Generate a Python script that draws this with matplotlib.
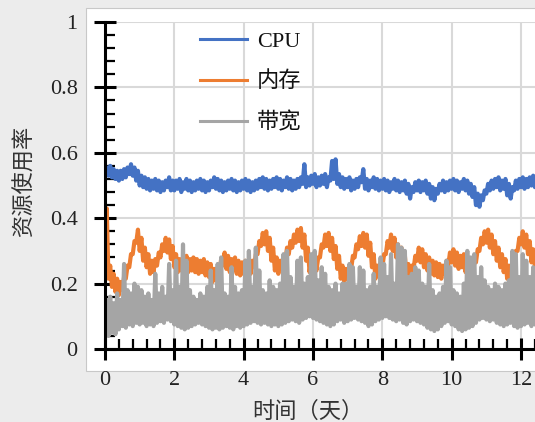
import numpy as np
import matplotlib
matplotlib.use("Agg")
from matplotlib import pyplot as plt
from matplotlib.patches import Rectangle
from matplotlib.ticker import MultipleLocator, FixedLocator, FixedFormatter

## data, one sample every 0.1 day (low / high of the noisy band)
days = np.round(np.arange(0, 12.65, 0.1), 2)

cpu_hi = [0.555, 0.56, 0.55, 0.545, 0.545, 0.55, 0.555, 0.565, 0.555, 0.545,
          0.53, 0.525, 0.52, 0.515, 0.52, 0.515, 0.51, 0.515, 0.525, 0.515,
          0.515, 0.52, 0.51, 0.52, 0.515, 0.51, 0.515, 0.52, 0.515, 0.51,
          0.515, 0.525, 0.52, 0.515, 0.51, 0.515, 0.52, 0.515, 0.51, 0.515,
          0.52, 0.515, 0.51, 0.515, 0.52, 0.525, 0.52, 0.515, 0.52, 0.525,
          0.52, 0.515, 0.525, 0.52, 0.515, 0.52, 0.525, 0.565, 0.525, 0.53,
          0.535, 0.525, 0.53, 0.535, 0.525, 0.575, 0.58, 0.535, 0.525, 0.52,
          0.525, 0.515, 0.52, 0.525, 0.55, 0.52, 0.515, 0.525, 0.52, 0.515,
          0.52, 0.515, 0.51, 0.52, 0.515, 0.51, 0.515, 0.505, 0.495, 0.51,
          0.515, 0.51, 0.515, 0.505, 0.495, 0.49, 0.505, 0.515, 0.51, 0.515,
          0.52, 0.515, 0.51, 0.52, 0.515, 0.505, 0.495, 0.475, 0.47, 0.485,
          0.505, 0.515, 0.52, 0.525, 0.515, 0.52, 0.505, 0.495, 0.515, 0.52,
          0.525, 0.52, 0.525, 0.53, 0.525, 0.52, 0.525]
cpu_lo = [0.53, 0.53, 0.525, 0.52, 0.515, 0.52, 0.525, 0.535, 0.53, 0.515,
          0.50, 0.495, 0.49, 0.485, 0.49, 0.485, 0.48, 0.485, 0.495, 0.485,
          0.485, 0.49, 0.48, 0.49, 0.485, 0.48, 0.485, 0.49, 0.485, 0.48,
          0.485, 0.495, 0.49, 0.485, 0.48, 0.485, 0.49, 0.485, 0.48, 0.485,
          0.49, 0.485, 0.48, 0.485, 0.49, 0.495, 0.49, 0.485, 0.49, 0.495,
          0.49, 0.485, 0.495, 0.49, 0.485, 0.49, 0.495, 0.505, 0.495, 0.50,
          0.505, 0.495, 0.50, 0.505, 0.495, 0.515, 0.52, 0.505, 0.495, 0.49,
          0.495, 0.485, 0.49, 0.495, 0.51, 0.49, 0.485, 0.495, 0.49, 0.485,
          0.49, 0.485, 0.48, 0.49, 0.485, 0.48, 0.485, 0.475, 0.46, 0.48,
          0.485, 0.48, 0.485, 0.475, 0.46, 0.455, 0.475, 0.485, 0.48, 0.485,
          0.49, 0.485, 0.48, 0.49, 0.485, 0.475, 0.465, 0.44, 0.435, 0.455,
          0.475, 0.485, 0.49, 0.495, 0.485, 0.49, 0.47, 0.46, 0.485, 0.49,
          0.495, 0.49, 0.495, 0.50, 0.495, 0.49, 0.495]

mem_hi = [0.43, 0.255, 0.23, 0.215, 0.205, 0.22, 0.255, 0.29, 0.33, 0.365,
          0.34, 0.31, 0.29, 0.27, 0.275, 0.295, 0.32, 0.34, 0.335, 0.315,
          0.29, 0.275, 0.28, 0.285, 0.275, 0.28, 0.275, 0.27, 0.275, 0.265,
          0.26, 0.245, 0.25, 0.275, 0.295, 0.285, 0.275, 0.28, 0.27, 0.265,
          0.27, 0.265, 0.27, 0.29, 0.33, 0.355, 0.36, 0.34, 0.31, 0.28,
          0.27, 0.285, 0.31, 0.33, 0.35, 0.365, 0.37, 0.35, 0.31, 0.275,
          0.26, 0.28, 0.32, 0.35, 0.355, 0.34, 0.315, 0.285, 0.255, 0.245,
          0.255, 0.285, 0.32, 0.345, 0.355, 0.35, 0.325, 0.29, 0.255, 0.265,
          0.29, 0.33, 0.35, 0.34, 0.32, 0.31, 0.285, 0.26, 0.255, 0.285,
          0.31, 0.305, 0.29, 0.28, 0.27, 0.265, 0.26, 0.255, 0.27, 0.295,
          0.305, 0.295, 0.285, 0.29, 0.275, 0.245, 0.265, 0.305, 0.34, 0.36,
          0.365, 0.35, 0.33, 0.31, 0.29, 0.275, 0.255, 0.245, 0.30, 0.34,
          0.36, 0.35, 0.33, 0.305, 0.29, 0.29, 0.30]
mem_lo = [0.25, 0.215, 0.19, 0.175, 0.165, 0.18, 0.215, 0.25, 0.29, 0.325,
          0.30, 0.27, 0.25, 0.23, 0.235, 0.255, 0.28, 0.30, 0.295, 0.275,
          0.25, 0.235, 0.24, 0.245, 0.235, 0.24, 0.235, 0.23, 0.235, 0.225,
          0.22, 0.205, 0.21, 0.235, 0.255, 0.245, 0.235, 0.24, 0.23, 0.225,
          0.23, 0.225, 0.23, 0.25, 0.29, 0.315, 0.32, 0.30, 0.27, 0.24,
          0.23, 0.245, 0.27, 0.29, 0.31, 0.325, 0.33, 0.31, 0.27, 0.235,
          0.22, 0.24, 0.28, 0.31, 0.315, 0.30, 0.275, 0.245, 0.215, 0.205,
          0.215, 0.245, 0.28, 0.305, 0.315, 0.31, 0.285, 0.25, 0.215, 0.225,
          0.25, 0.29, 0.31, 0.30, 0.28, 0.27, 0.245, 0.22, 0.215, 0.245,
          0.27, 0.265, 0.25, 0.24, 0.23, 0.225, 0.22, 0.215, 0.23, 0.255,
          0.265, 0.255, 0.245, 0.25, 0.235, 0.205, 0.225, 0.265, 0.30, 0.32,
          0.325, 0.31, 0.29, 0.27, 0.25, 0.235, 0.215, 0.205, 0.26, 0.30,
          0.32, 0.31, 0.29, 0.265, 0.25, 0.25, 0.26]

bw_hi = [0.15, 0.16, 0.14, 0.17, 0.15, 0.26, 0.18, 0.17, 0.20, 0.19,
         0.18, 0.16, 0.17, 0.15, 0.23, 0.17, 0.19, 0.16, 0.26, 0.18,
         0.27, 0.19, 0.32, 0.27, 0.18, 0.16, 0.15, 0.17, 0.16, 0.19,
         0.24, 0.18, 0.26, 0.28, 0.17, 0.16, 0.25, 0.19, 0.17, 0.18,
         0.27, 0.30, 0.19, 0.31, 0.24, 0.18, 0.17, 0.21, 0.19, 0.18,
         0.20, 0.29, 0.30, 0.22, 0.19, 0.27, 0.28, 0.20, 0.22, 0.29,
         0.30, 0.21, 0.25, 0.23, 0.19, 0.18, 0.20, 0.17, 0.20, 0.20,
         0.26, 0.25, 0.19, 0.25, 0.24, 0.18, 0.19, 0.23, 0.19, 0.28,
         0.26, 0.22, 0.29, 0.20, 0.32, 0.31, 0.30, 0.22, 0.23, 0.25,
         0.24, 0.20, 0.19, 0.26, 0.18, 0.16, 0.17, 0.19, 0.27, 0.25,
         0.18, 0.17, 0.16, 0.20, 0.30, 0.28, 0.29, 0.22, 0.25, 0.21,
         0.19, 0.18, 0.20, 0.19, 0.18, 0.20, 0.21, 0.30, 0.29, 0.22,
         0.29, 0.27, 0.22, 0.25, 0.20, 0.19, 0.21]
bw_lo = [0.05, 0.04, 0.05, 0.045, 0.06, 0.07, 0.065, 0.075, 0.07, 0.08,
         0.075, 0.08, 0.07, 0.075, 0.07, 0.08, 0.085, 0.08, 0.09, 0.085,
         0.075, 0.07, 0.065, 0.06, 0.065, 0.07, 0.075, 0.08, 0.075, 0.07,
         0.065, 0.06, 0.065, 0.06, 0.065, 0.07, 0.065, 0.06, 0.07, 0.065,
         0.07, 0.075, 0.08, 0.085, 0.08, 0.075, 0.08, 0.075, 0.07, 0.075,
         0.07, 0.075, 0.08, 0.085, 0.09, 0.085, 0.08, 0.09, 0.095, 0.10,
         0.095, 0.09, 0.085, 0.08, 0.075, 0.07, 0.075, 0.085, 0.09, 0.08,
         0.085, 0.09, 0.095, 0.09, 0.085, 0.08, 0.07, 0.075, 0.085, 0.09,
         0.095, 0.10, 0.095, 0.09, 0.085, 0.09, 0.08, 0.075, 0.085, 0.09,
         0.085, 0.08, 0.075, 0.065, 0.06, 0.055, 0.06, 0.07, 0.08, 0.085,
         0.075, 0.07, 0.06, 0.055, 0.06, 0.065, 0.07, 0.08, 0.09, 0.095,
         0.09, 0.085, 0.09, 0.08, 0.075, 0.07, 0.075, 0.08, 0.07, 0.065,
         0.07, 0.075, 0.08, 0.07, 0.075, 0.08, 0.075]

labels = ['CPU', '内存', '带宽']
colors = ['#4472C4', '#ED7D31', '#A5A5A5']
y_ticks = [0, 0.2, 0.4, 0.6, 0.8, 1.0]
y_tick_labels = ['0', '0.2', '0.4', '0.6', '0.8', '1']


def band(lo, hi):
    # alternate low / high samples, half a step apart
    xs = np.empty(2 * len(days))
    ys = np.empty(2 * len(days))
    xs[0::2], xs[1::2] = days, days + 0.05
    ys[0::2], ys[1::2] = lo, hi
    return xs, ys


plt.rcParams['font.family'] = ['Liberation Serif', 'Noto Sans CJK SC']
plt.rcParams['axes.unicode_minus'] = False

W, H = 535, 422
fig = plt.figure(figsize=(W / 100, H / 100), dpi=100, facecolor='#ececec')
# white panel behind the plot
fig.patches.append(Rectangle((86 / W, 1 - 371 / H), 1.0, (371 - 8) / H,
                             transform=fig.transFigure, facecolor='white',
                             edgecolor='#c8c8c8', lw=0.8, zorder=-5))

px = 34.67  # pixels per day
ax = fig.add_axes([105 / W, 1 - 349 / H, 14 * px / W, 327 / H])
ax.set_zorder(2)
ax.patch.set_alpha(0)

for (lo, hi), lab, c in zip([(cpu_lo, cpu_hi), (mem_lo, mem_hi), (bw_lo, bw_hi)],
                            labels, colors):
    xs, ys = band(lo, hi)
    ax.plot(xs, ys, color=c, lw=3.0, label=lab)

ax.set_xlim(0, 14)
ax.set_ylim(0, 1)
ax.xaxis.set_major_locator(MultipleLocator(2))
ax.xaxis.set_minor_locator(MultipleLocator(0.4))
ax.yaxis.set_major_locator(FixedLocator(y_ticks))
ax.yaxis.set_major_formatter(FixedFormatter(y_tick_labels))
ax.yaxis.set_minor_locator(MultipleLocator(0.04))

ax.grid(True, which='major', color='#d9d9d9', lw=1.5, zorder=0)
ax.set_axisbelow(True)
for s in ['top', 'right']:
    ax.spines[s].set_visible(False)
for s in ['left', 'bottom']:
    ax.spines[s].set_linewidth(2.2)
    ax.spines[s].set_color('black')

ax.tick_params(which='major', direction='inout', length=16.5, width=2.2,
               labelsize=16, labelcolor='#222222')
ax.tick_params(which='minor', direction='in', length=7, width=1.6)
ax.tick_params(axis='x', which='major', pad=7.5)
ax.tick_params(axis='y', which='major', pad=11.5)

ax.set_xlabel('时间（天）', fontsize=16, color='#333333', family='Noto Sans CJK SC')
ax.xaxis.set_label_coords((308 - 105) / (14 * px), -(400 - 349) / 327)
ax.set_ylabel('资源使用率', fontsize=16, color='#333333', family='Noto Sans CJK SC')
ax.yaxis.set_label_coords(-(105 - 36) / (14 * px), (349 - 180) / 327)

leg = ax.legend(loc='upper left', bbox_to_anchor=(200 / W, 1 - 31 / H),
                bbox_transform=fig.transFigure, frameon=False, fontsize=16,
                handlelength=2.1, handletextpad=0.45, labelspacing=0.9,
                borderpad=0, borderaxespad=0)
for t in leg.get_texts():
    t.set_color('#111111')
for h in leg.get_lines():
    h.set_linewidth(2.2)

fig.savefig('out.png', dpi=100, facecolor=fig.get_facecolor())
